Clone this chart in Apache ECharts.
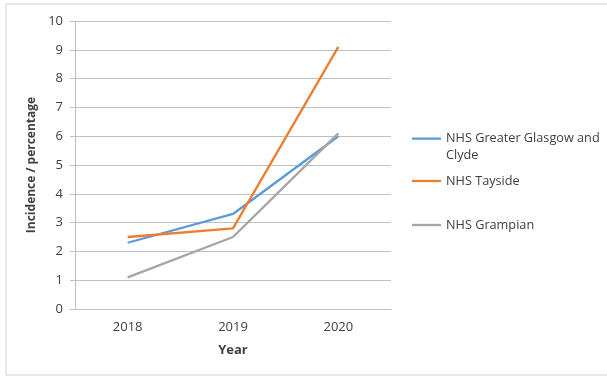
<!DOCTYPE html>
<html><head><meta charset="utf-8">
<script src="https://cdn.jsdelivr.net/npm/echarts@6/dist/echarts.min.js"></script>
<style>html,body{margin:0;padding:0;background:#fff}#c{width:607px;height:378px}</style>
</head><body><div id="c"></div>
<script>
const years = ['2018', '2019', '2020'];
const glasgow = [2.3, 3.3, 6.0];
const tayside = [2.5, 2.8, 9.1];
const grampian = [1.1, 2.5, 6.1];
const seriesNames = ['NHS Greater Glasgow and\nClyde', 'NHS Tayside', 'NHS Grampian'];
const colors = ['#5b9bd5', '#ed7d31', '#a5a5a5'];

const chart = echarts.init(document.getElementById('c'), null, {renderer: 'canvas'});
const font = 'Open Sans';
const legTxt = {fontFamily: font, fontSize: 12.7, color: '#404040', lineHeight: 17};
const topLineIcon = 'path://M0,0h0.01v0.01h-0.01Z M0,7.5H29V9.8H0Z M0,33.99h0.01v0.01h-0.01Z';
chart.setOption({
  animation: false,
  textStyle: {fontFamily: font},
  graphic: [{type: 'rect', shape: {x: 6, y: 4, width: 610, height: 371}, style: {fill: 'none', stroke: '#d0d0d0', lineWidth: 1}, silent: true}],
  grid: {left: 75, right: 216, top: 21, bottom: 69, containLabel: false},
  legend: [
    {orient: 'vertical', left: 407, top: 125, itemWidth: 29, itemHeight: 34, icon: topLineIcon, itemGap: 0,
     textStyle: legTxt, data: [seriesNames[0]]},
    {orient: 'vertical', left: 407, top: 167.5, itemWidth: 29, itemHeight: 2.3, icon: 'rect',
     textStyle: legTxt, data: [seriesNames[1]]},
    {orient: 'vertical', left: 407, top: 211.5, itemWidth: 29, itemHeight: 2.3, icon: 'rect',
     textStyle: legTxt, data: [seriesNames[2]]}
  ],
  xAxis: {
    type: 'category', data: years, boundaryGap: true,
    name: 'Year', nameLocation: 'middle', nameGap: 35,
    nameTextStyle: {fontFamily: font, fontSize: 13, fontWeight: 'bold', color: '#404040'},
    axisLine: {lineStyle: {color: '#bfbfbf', width: 1}},
    axisTick: {show: false},
    axisLabel: {fontFamily: font, fontSize: 13, color: '#404040', margin: 12}
  },
  yAxis: {
    type: 'value', min: 0, max: 10, interval: 1,
    name: 'Incidence / percentage', nameLocation: 'middle', nameGap: 30, nameRotate: 90,
    nameTextStyle: {fontFamily: font, fontSize: 12, fontWeight: 'bold', color: '#404040'},
    axisLine: {show: true, lineStyle: {color: '#bfbfbf', width: 1}},
    axisTick: {show: true, length: 5, lineStyle: {color: '#bfbfbf'}},
    splitLine: {lineStyle: {color: '#bfbfbf', width: 1}},
    axisLabel: {fontFamily: font, fontSize: 13, color: '#404040', margin: 12}
  },
  series: [
    {name: seriesNames[0], type: 'line', data: glasgow, symbol: 'none', lineStyle: {color: colors[0], width: 2.3}, itemStyle: {color: colors[0]}},
    {name: seriesNames[1], type: 'line', data: tayside, symbol: 'none', lineStyle: {color: colors[1], width: 2.3}, itemStyle: {color: colors[1]}},
    {name: seriesNames[2], type: 'line', data: grampian, symbol: 'none', lineStyle: {color: colors[2], width: 2.3}, itemStyle: {color: colors[2]}}
  ]
});
</script></body></html>
